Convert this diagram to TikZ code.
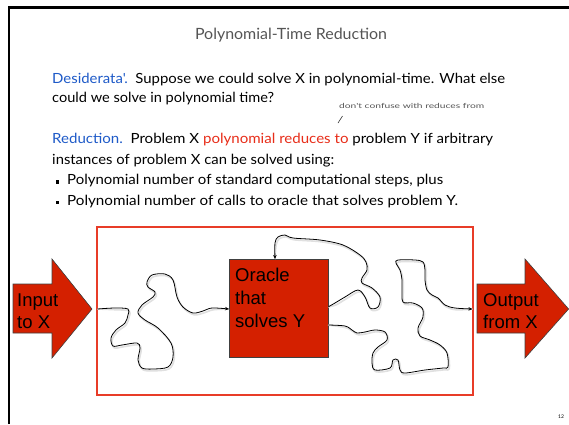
\documentclass[tikz,border=0pt]{standalone}
\usepackage{fontspec}
\usepackage{graphicx}
\usetikzlibrary{arrows.meta}
\newfontfamily\comicfont{Lato}
\newfontfamily\arialfont{Liberation Sans}
\definecolor{dblue}{RGB}{30,90,200}
\definecolor{dred}{RGB}{232,45,25}
\definecolor{boxred}{RGB}{212,32,0}
\definecolor{framered}{RGB}{232,60,40}
\definecolor{titlegray}{RGB}{85,85,85}
\newcommand{\fitw}[2]{\resizebox{#1pt}{\height}{#2}}
\tikzset{
  body/.style={anchor=base west, inner sep=0pt, font=\comicfont\fontsize{14}{16}\selectfont},
  note/.style={anchor=base west, inner sep=0pt, text=titlegray, font=\comicfont\fontsize{7}{8}\selectfont},
  bigtext/.style={anchor=base west, inner sep=0pt, font=\arialfont\fontsize{18.5}{22.5}\selectfont},
  redfill/.style={fill=boxred, draw=black!75, line width=0.6pt},
  wiggle/.style={line width=0.8pt, -{Stealth[length=4pt,width=3.5pt]}},
  shadowline/.style={line width=1.6pt, draw=black!12},
  bulletsq/.style={fill=black, inner sep=0pt, minimum width=2.6pt, minimum height=3.2pt}
}
\begin{document}
\begin{tikzpicture}[x=1pt,y=-1pt]
\useasboundingbox (0,0) rectangle (569,424);
\fill[white] (0,0) rectangle (569,424);
% slide frame
\draw[line width=2.2pt] (9,424) -- (9,7.5) -- (569,7.5);

% title
\node[anchor=base, inner sep=0pt, text=titlegray, font=\comicfont\fontsize{15.5}{18}\selectfont] (title) at (291,39) {\fitw{192}{Polynomial-Time Reduction}};

% text
\node[body] (l1) at (52,83) {\fitw{453}{\textcolor{dblue}{Desiderata'.}\ \ Suppose we could solve X in polynomial-time. What else}};
\node[body] (l2) at (52,102.5) {\fitw{222}{could we solve in polynomial time?}};
\node[note] (n1) at (339,108) {\fitw{145}{don't confuse with reduces from}};
\coordinate (tka) at (342.5,116);
\coordinate (tkb) at (338,123);
\draw[line width=0.6pt, black!80] (tka) -- (tkb);
\node[body] (l3) at (52,143.5) {\fitw{441}{\textcolor{dblue}{Reduction.}\ \ Problem X \textcolor{dred}{polynomial reduces to} problem Y if arbitrary}};
\node[body] (l4) at (52,164) {\fitw{282}{instances of problem X can be solved using:}};
\node[bulletsq] (b1) at (57.5,182) {};
\node[body] (l5) at (67,184.5) {\fitw{376}{Polynomial number of standard computational steps, plus}};
\node[bulletsq] (b2) at (57.5,202.5) {};
\node[body] (l6) at (67,205) {\fitw{391}{Polynomial number of calls to oracle that solves problem Y.}};

% red frame
\draw[framered, line width=1.3pt] (97,227) rectangle (473,395);
\coordinate (fin) at (97.5,309);
\coordinate (fout) at (472.5,309);

% input arrow
\path[redfill] (13,284) -- (52,284) -- (52,259) -- (92,309) -- (52,358) -- (52,333) -- (13,333) -- cycle;
\node[bigtext] (inp1) at (17,306) {Input};
\node[bigtext] (inp2) at (17,328) {to X};

% output arrow
\path[redfill] (477,284) -- (525,284) -- (525,259) -- (568.6,309) -- (525,358) -- (525,333) -- (477,333) -- cycle;
\node[bigtext] (outp1) at (483,306) {Output};
\node[bigtext] (outp2) at (483,328) {from X};

% oracle
\node[redfill, minimum width=99pt, minimum height=98pt, inner sep=0pt] (oracle) at (278.5,308) {};
\node[bigtext] (ot1) at (235,281) {Oracle};
\node[bigtext] (ot2) at (235,304) {that};
\node[bigtext] (ot3) at (235,327) {solves Y};
\coordinate (otop) at (275,259);
\coordinate (oright1) at (328,307);
\coordinate (oright2) at (328,325);
\coordinate (oleft) at (229,309);

% shadows
\begin{scope}[shift={(1.2,1.8)}]
\draw[shadowline] plot[smooth, tension=0.55] coordinates {(fin) (115,308) (128,309) (128,315) (125,323) (116,330) (111,338) (113,346) (122,345) (137,343) (140,348) (138,360) (142,368) (153,369) (168,367) (173,357) (171,343) (158,328) (145,320) (138,313) (142,305) (153,297) (155,292) (148,287) (147,282) (152,275) (165,274) (173,280) (177,297) (183,307) (193,313) (203,311) (212,308) (oleft)};
\draw[shadowline] plot[smooth, tension=0.55] coordinates {(oright1) (335,303) (345,297) (358,290) (365,297) (370,308) (378,307) (380,297) (372,288) (362,283) (362,278) (367,270) (366,262) (360,255) (343,245) (320,240) (293,238) (285,235) (278,237) (275,243) (otop)};
\draw[shadowline] plot[smooth, tension=0.55] coordinates {(oright2) (345,326) (352,330) (357,333) (365,332) (375,330) (385,332) (387,340) (378,347) (373,353) (372,363) (375,370) (390,368) (393,360) (398,360) (400,370) (405,373) (425,370) (443,368) (448,367) (447,353) (440,345) (430,340) (420,336) (418,328) (423,317) (422,308) (413,303) (403,302) (402,290) (402,280) (400,270) (396,263) (398,260) (415,260) (423,262) (425,270) (425,280) (427,290) (432,295) (438,298) (445,305) (455,308) (fout)};
\end{scope}

% squiggles
\draw[wiggle] plot[smooth, tension=0.55] coordinates {(fin) (115,308) (128,309) (128,315) (125,323) (116,330) (111,338) (113,346) (122,345) (137,343) (140,348) (138,360) (142,368) (153,369) (168,367) (173,357) (171,343) (158,328) (145,320) (138,313) (142,305) (153,297) (155,292) (148,287) (147,282) (152,275) (165,274) (173,280) (177,297) (183,307) (193,313) (203,311) (212,308) (oleft)};
\draw[wiggle] plot[smooth, tension=0.55] coordinates {(oright1) (335,303) (345,297) (358,290) (365,297) (370,308) (378,307) (380,297) (372,288) (362,283) (362,278) (367,270) (366,262) (360,255) (343,245) (320,240) (293,238) (285,235) (278,237) (275,243) (otop)};
\draw[wiggle] plot[smooth, tension=0.55] coordinates {(oright2) (345,326) (352,330) (357,333) (365,332) (375,330) (385,332) (387,340) (378,347) (373,353) (372,363) (375,370) (390,368) (393,360) (398,360) (400,370) (405,373) (425,370) (443,368) (448,367) (447,353) (440,345) (430,340) (420,336) (418,328) (423,317) (422,308) (413,303) (403,302) (402,290) (402,280) (400,270) (396,263) (398,260) (415,260) (423,262) (425,270) (425,280) (427,290) (432,295) (438,298) (445,305) (455,308) (fout)};

% page number
\node[anchor=base, inner sep=0pt, font=\comicfont\fontsize{5}{6}\selectfont] (pg) at (561,418) {12};
\end{tikzpicture}
\end{document}
